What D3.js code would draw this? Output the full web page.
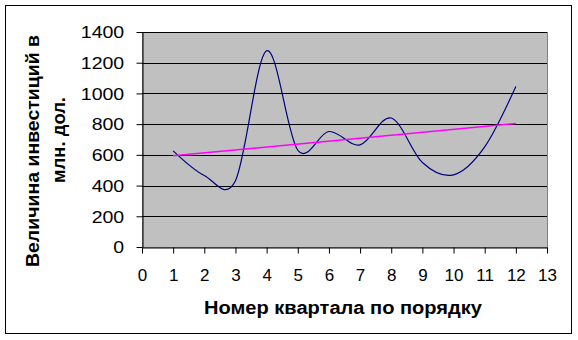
<!DOCTYPE html>
<html>
<head>
<meta charset="utf-8">
<script src="https://cdn.jsdelivr.net/npm/d3@7"></script>
<style>
  html, body { margin: 0; padding: 0; background: #fff; }
  svg text { font-family: Arial, "Liberation Sans", sans-serif; fill: #000; }
</style>
</head>
<body>
<div id="chart"></div>
<script>
// quarters and investment values (mln dollars)
const quarters = [1, 2, 3, 4, 5, 6, 7, 8, 9, 10, 11, 12];
const investments = [626, 466, 432, 1278, 630, 752, 665, 840, 550, 470, 652, 1045];

const trendQuarters = [1, 12];
const trendValues = [594, 804];

const xTicks = d3.range(0, 14);
const yTicks = [0, 200, 400, 600, 800, 1000, 1200, 1400];

const xTitle = "Номер квартала по порядку";
const yTitle = ["Величина инвестиций в", "млн. дол."];

const width = 578;
const height = 340;
const plot = { left: 142, right: 547, top: 32, bottom: 247 };

const svg = d3.select("#chart")
    .append("svg")
    .attr("width", width)
    .attr("height", height);

// chart area border
svg.append("rect")
    .attr("x", 5.5)
    .attr("y", 5.5)
    .attr("width", 566)
    .attr("height", 328)
    .attr("fill", "#fff")
    .attr("stroke", "#000")
    .attr("stroke-width", 1);

const x = d3.scaleLinear().domain([0, 13]).range([plot.left, plot.right]);
const y = d3.scaleLinear().domain([0, 1400]).range([plot.bottom, plot.top]);

// plot area
svg.append("rect")
    .attr("x", plot.left + 0.5)
    .attr("y", plot.top + 0.5)
    .attr("width", plot.right - plot.left)
    .attr("height", plot.bottom - plot.top)
    .attr("fill", "#c0c0c0")
    .attr("stroke", "#808080")
    .attr("stroke-width", 1);

// gridlines
svg.append("g")
    .selectAll("line")
    .data(yTicks.slice(1))
    .enter().append("line")
    .attr("x1", plot.left)
    .attr("x2", plot.right)
    .attr("y1", d => Math.round(y(d)) + 0.5)
    .attr("y2", d => Math.round(y(d)) + 0.5)
    .attr("stroke", "#000")
    .attr("stroke-width", 1);

// y axis
const yAxis = svg.append("g")
    .attr("transform", "translate(" + (plot.left + 0.5) + ",0)")
    .call(d3.axisLeft(y).tickValues(yTicks).tickFormat(d3.format("d")).tickSize(6).tickSizeOuter(0));
yAxis.select(".domain").attr("stroke", "#000");
yAxis.selectAll(".tick line").attr("stroke", "#000");
yAxis.selectAll(".tick text")
    .attr("x", -15)
    .attr("dy", "0.36em")
    .attr("transform", "scale(1.22,1)")
    .style("font-size", "16px")
    .style("font-family", "Arial, 'Liberation Sans', sans-serif");

// x axis
const xAxis = svg.append("g")
    .attr("transform", "translate(0," + (plot.bottom + 0.5) + ")")
    .call(d3.axisBottom(x).tickValues(xTicks).tickSize(6).tickSizeOuter(0));
xAxis.select(".domain").attr("stroke", "#000");
xAxis.selectAll(".tick line").attr("stroke", "#000");
xAxis.selectAll(".tick text")
    .attr("y", 33.5)
    .attr("dy", "0")
    .style("font-size", "17px")
    .style("font-family", "Arial, 'Liberation Sans', sans-serif");

// data curve (smoothed)
const line = d3.line()
    .x((d, i) => x(quarters[i]))
    .y(d => y(d))
    .curve(d3.curveCardinal.tension(0));

svg.append("path")
    .datum(investments)
    .attr("d", line)
    .attr("fill", "none")
    .attr("stroke", "#000080")
    .attr("stroke-width", 1.2);

// trend line
svg.append("path")
    .datum(trendValues)
    .attr("d", d3.line().x((d, i) => x(trendQuarters[i])).y(d => y(d)))
    .attr("fill", "none")
    .attr("stroke", "#ff00ff")
    .attr("stroke-width", 1.5);

// axis titles
svg.append("text")
    .attr("x", 204)
    .attr("y", 313.5)
    .attr("textLength", 278)
    .attr("lengthAdjust", "spacingAndGlyphs")
    .style("font-size", "18px")
    .style("font-weight", "bold")
    .text(xTitle);

// y title: two rotated lines, each centred on its own spot
const yLens = [232, 86];
const yCenters = [151, 140];
yTitle.forEach((s, i) => {
    svg.append("text")
        .attr("transform", "translate(" + (39 + i * 26) + "," + yCenters[i] + ") rotate(-90)")
        .attr("x", -yLens[i] / 2)
        .attr("textLength", yLens[i])
        .attr("lengthAdjust", "spacingAndGlyphs")
        .style("font-size", "18px")
        .style("font-weight", "bold")
        .text(s);
});
</script>
</body>
</html>
